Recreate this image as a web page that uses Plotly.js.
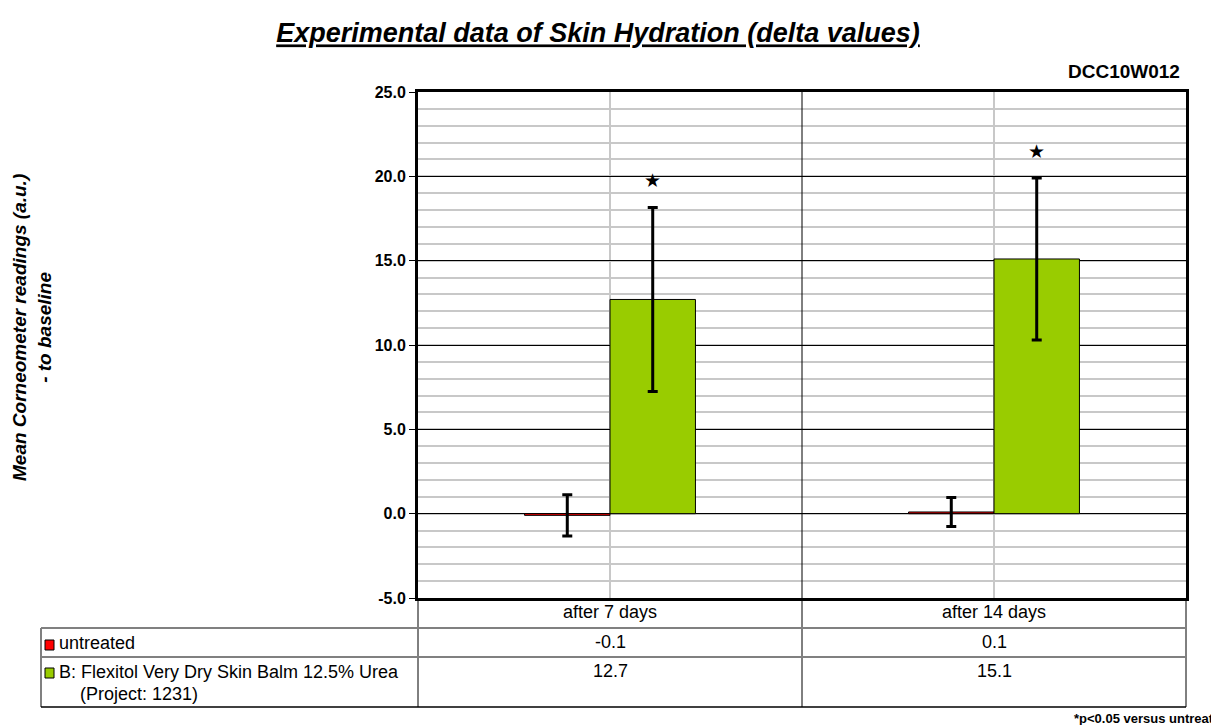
<!DOCTYPE html>
<html>
<head>
<meta charset="utf-8">
<script src="https://cdn.plot.ly/plotly-3.0.1.min.js"></script>
<style>
  html, body { margin: 0; padding: 0; background: #ffffff; }
  #chart { width: 1211px; height: 725px; }
</style>
</head>
<body>
<div id="chart"></div>
<script>
// ---------------- data ----------------
const categories = ['after 7 days', 'after 14 days'];
const seriesNames = ['untreated', 'B: Flexitol Very Dry Skin Balm 12.5% Urea'];
const seriesSubLabels = ['', '(Project: 1231)'];
const untreatedValues = [-0.1, 0.1];
const untreatedErrors = [1.22, 0.86];
const flexitolValues = [12.7, 15.1];
const flexitolErrors = [5.45, 4.8];
const starValues = [19.8, 21.5];
const seriesColors = ['#FF0000', '#99CC00'];
const yTickValues = [-5, 0, 5, 10, 15, 20, 25];
const yTickLabels = ['-5.0', '0.0', '5.0', '10.0', '15.0', '20.0', '25.0'];
const titleText = 'Experimental data of Skin Hydration (delta values)';
const studyCode = 'DCC10W012';
const yTitleLines = ['Mean Corneometer readings (a.u.)', '- to baseline'];
const footnote = '*p<0.05 versus untreated';

// ---------------- layout helpers ----------------
const W = 1211, H = 725;
const M = { l: 418, r: 25, t: 92, b: 127 };
const PW = W - M.l - M.r, PH = H - M.t - M.b;
const px = x => (x - M.l) / PW;          // pixel x -> paper
const py = y => (H - M.b - y) / PH;      // pixel y -> paper
const FONT = 'Liberation Sans, Arial, sans-serif';
const BARGAP = 0.555;
const barWidthPx = (PW / categories.length) * (1 - BARGAP) / 2;

const traces = [
  {
    type: 'bar', name: seriesNames[0], x: categories, y: untreatedValues,
    marker: { color: seriesColors[0], line: { color: '#000000', width: 1 } },
    error_y: { type: 'data', array: untreatedErrors, visible: true, color: '#000000', thickness: 3, width: 5 },
    hoverinfo: 'skip'
  },
  {
    type: 'bar', name: seriesNames[1], x: categories, y: flexitolValues,
    marker: { color: seriesColors[1], line: { color: '#000000', width: 1 } },
    error_y: { type: 'data', array: flexitolErrors, visible: true, color: '#000000', thickness: 3, width: 5 },
    hoverinfo: 'skip'
  }
];

const annotations = [];
const shapes = [];

// study code
annotations.push({ xref: 'paper', yref: 'paper', x: px(1182), y: py(71), xanchor: 'right', yanchor: 'middle',
  text: studyCode, showarrow: false, font: { family: FONT, size: 19, color: '#000', weight: 'bold' } });

// y-axis title
annotations.push({ xref: 'paper', yref: 'paper', x: px(32), y: py(328), xanchor: 'center', yanchor: 'middle',
  text: yTitleLines.join('<br>'), textangle: -90, showarrow: false,
  font: { family: FONT, size: 19, color: '#000', weight: 'bold', style: 'italic' } });

// significance stars above the treated bars
categories.forEach((c, i) => {
  annotations.push({ xref: 'x', yref: 'y', x: c, y: starValues[i], xshift: barWidthPx / 2,
    xanchor: 'center', yanchor: 'middle', text: '★', showarrow: false,
    font: { family: 'DejaVu Sans, sans-serif', size: 19, color: '#000' } });
});

// data table: header row, value rows
categories.forEach((c, i) => {
  annotations.push({ xref: 'x', yref: 'paper', x: c, y: py(612), xanchor: 'center', yanchor: 'middle',
    text: c, showarrow: false, font: { family: FONT, size: 18, color: '#000' } });
  annotations.push({ xref: 'x', yref: 'paper', x: c, y: py(642), xanchor: 'center', yanchor: 'middle',
    text: untreatedValues[i].toFixed(1), showarrow: false, font: { family: FONT, size: 18, color: '#000' } });
  annotations.push({ xref: 'x', yref: 'paper', x: c, y: py(671), xanchor: 'center', yanchor: 'middle',
    text: flexitolValues[i].toFixed(1), showarrow: false, font: { family: FONT, size: 18, color: '#000' } });
});

// row labels
annotations.push({ xref: 'paper', yref: 'paper', x: px(57), y: py(643), xanchor: 'left', yanchor: 'middle',
  text: seriesNames[0], showarrow: false, font: { family: FONT, size: 18, color: '#000' } });
annotations.push({ xref: 'paper', yref: 'paper', x: px(57), y: py(672), xanchor: 'left', yanchor: 'middle',
  text: seriesNames[1], showarrow: false, font: { family: FONT, size: 18, color: '#000' } });
annotations.push({ xref: 'paper', yref: 'paper', x: px(78), y: py(694), xanchor: 'left', yanchor: 'middle',
  text: seriesSubLabels[1], showarrow: false, font: { family: FONT, size: 18, color: '#000' } });

// footnote (cut at the right edge, as in the source picture)
annotations.push({ xref: 'paper', yref: 'paper', x: px(1072), y: py(718), xanchor: 'left', yanchor: 'middle',
  text: footnote, showarrow: false, font: { family: FONT, size: 13, color: '#000', weight: 'bold' } });

// legend keys in the table
[[640, 650], [668, 678]].forEach((yy, i) => {
  shapes.push({ type: 'rect', xref: 'paper', yref: 'paper', x0: px(45), x1: px(54), y0: py(yy[1]), y1: py(yy[0]),
    fillcolor: seriesColors[i], line: { color: '#000', width: 1 } });
});

// category divider inside plot and down through the table
shapes.push({ type: 'line', xref: 'paper', yref: 'paper', x0: 0.5, x1: 0.5, y0: 1, y1: py(707), line: { color: '#000', width: 1 } });
// table verticals
shapes.push({ type: 'line', xref: 'paper', yref: 'paper', x0: 0, x1: 0, y0: 0, y1: py(707), line: { color: '#000', width: 1 } });
shapes.push({ type: 'line', xref: 'paper', yref: 'paper', x0: 1, x1: 1, y0: 0, y1: py(707), line: { color: '#000', width: 1 } });
shapes.push({ type: 'line', xref: 'paper', yref: 'paper', x0: px(41), x1: px(41), y0: py(628), y1: py(707), line: { color: '#808080', width: 2 } });
// table horizontals
shapes.push({ type: 'line', xref: 'paper', yref: 'paper', x0: px(41), x1: 1, y0: py(628), y1: py(628), line: { color: '#808080', width: 2 } });
shapes.push({ type: 'line', xref: 'paper', yref: 'paper', x0: px(41), x1: 1, y0: py(657), y1: py(657), line: { color: '#808080', width: 2 } });
shapes.push({ type: 'line', xref: 'paper', yref: 'paper', x0: px(41), x1: 1, y0: py(707), y1: py(707), line: { color: '#000', width: 1.5 } });

const layout = {
  width: W, height: H,
  margin: M,
  paper_bgcolor: '#ffffff', plot_bgcolor: '#ffffff',
  showlegend: false,
  barmode: 'group', bargap: BARGAP, bargroupgap: 0,
  title: {
    text: titleText, x: 598 / W, xref: 'container', xanchor: 'center',
    y: 1 - 33 / H, yref: 'container', yanchor: 'middle',
    font: { family: FONT, size: 27, color: '#000', weight: 'bold', style: 'italic', lineposition: 'under' }
  },
  xaxis: {
    type: 'category', range: [-0.5, 1.5], showticklabels: false, ticks: '',
    showline: true, mirror: true, linecolor: '#000', linewidth: 3,
    showgrid: true, gridcolor: '#c8c8c8', gridwidth: 2, zeroline: false, fixedrange: true
  },
  yaxis: {
    range: [-5, 25], tickmode: 'array', tickvals: yTickValues, ticktext: yTickLabels,
    ticks: 'outside', ticklen: 6, tickwidth: 1, tickcolor: '#000',
    tickfont: { family: FONT, size: 16, color: '#000', weight: 'bold' },
    showline: true, mirror: true, linecolor: '#000', linewidth: 3,
    showgrid: true, gridcolor: '#000', gridwidth: 1,
    zeroline: true, zerolinecolor: '#000', zerolinewidth: 1,
    minor: { dtick: 1, showgrid: true, gridcolor: '#c8c8c8', gridwidth: 2, ticks: '' },
    fixedrange: true
  },
  annotations: annotations,
  shapes: shapes
};

Plotly.newPlot('chart', traces, layout, { displayModeBar: false, staticPlot: true });
</script>
</body>
</html>
